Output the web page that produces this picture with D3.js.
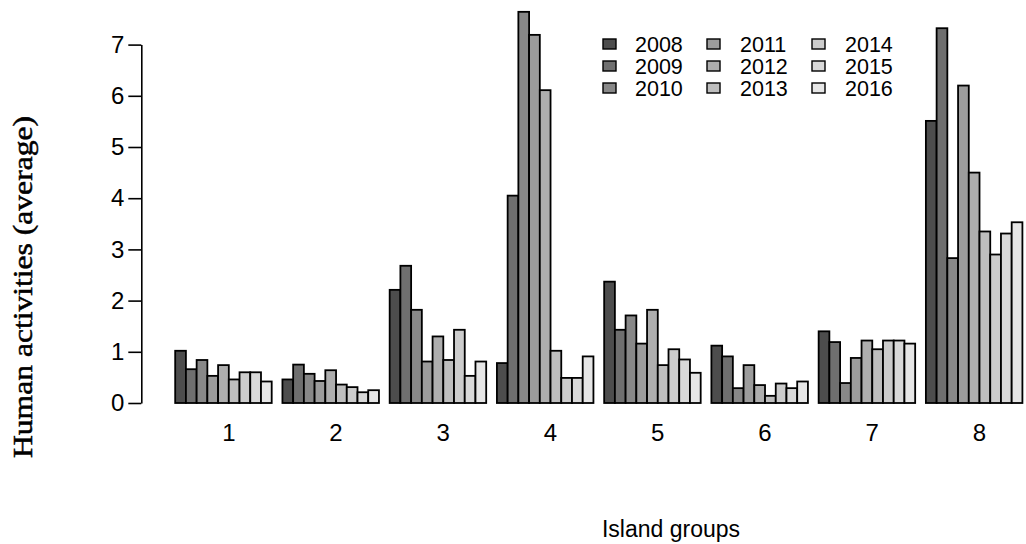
<!DOCTYPE html>
<html>
<head>
<meta charset="utf-8">
<script src="https://cdn.jsdelivr.net/npm/d3@7"></script>
<style>
  html, body { margin: 0; padding: 0; background: #fff; }
  svg { display: block; }
</style>
</head>
<body>
<svg id="chart" width="1026" height="544"></svg>
<script>
const groups = ["1", "2", "3", "4", "5", "6", "7", "8"];
const years = ["2008", "2009", "2010", "2011", "2012", "2013", "2014", "2015", "2016"];
const yTicks = [0, 1, 2, 3, 4, 5, 6, 7];
const v1 = [1.02, 0.66, 0.84, 0.53, 0.74, 0.46, 0.60, 0.60, 0.42];
const v2 = [0.46, 0.75, 0.57, 0.43, 0.64, 0.36, 0.31, 0.21, 0.25];
const v3 = [2.21, 2.68, 1.82, 0.81, 1.30, 0.84, 1.43, 0.53, 0.81];
const v4 = [0.78, 4.05, 7.64, 7.19, 6.11, 1.02, 0.49, 0.49, 0.91];
const v5 = [2.37, 1.43, 1.71, 1.16, 1.82, 0.74, 1.05, 0.85, 0.59];
const v6 = [1.12, 0.91, 0.29, 0.74, 0.35, 0.14, 0.38, 0.29, 0.42];
const v7 = [1.40, 1.19, 0.39, 0.88, 1.22, 1.05, 1.22, 1.22, 1.16];
const v8 = [5.51, 7.32, 2.83, 6.20, 4.50, 3.35, 2.90, 3.31, 3.53];
const values = [v1, v2, v3, v4, v5, v6, v7, v8];
const colors = ["#4D4D4D", "#6F6F6F", "#888888", "#9C9C9C", "#AEAEAE", "#BEBEBE", "#CCCCCC", "#D9D9D9", "#E6E6E6"];
const yLabel = "Human activities (average)";
const xLabel = "Island groups";

const svg = d3.select("#chart");

const nB = years.length;
const unitsPer = nB + 1;
const totalUnits = groups.length * unitsPer;
const ext = (totalUnits - 1) * 0.04;
const x = d3.scaleLinear().domain([1 - ext, totalUnits + ext]).range([141.3, 1056.3]);
const y = d3.scaleLinear().domain([0, 7]).range([403, 44.6]);
const color = d3.scaleOrdinal().domain(years).range(colors);

const gBars = svg.append("g");
groups.forEach((g, gi) => {
  gBars.selectAll(null)
    .data(values[gi].map((v, j) => ({ v, j })))
    .enter().append("rect")
    .attr("x", d => x(1 + gi * unitsPer + d.j))
    .attr("width", d => x(2 + gi * unitsPer + d.j) - x(1 + gi * unitsPer + d.j))
    .attr("y", d => y(d.v))
    .attr("height", d => y(0) - y(d.v))
    .attr("fill", d => color(years[d.j]))
    .attr("stroke", "#000")
    .attr("stroke-width", 1.8);
});

const yAxis = d3.axisLeft(y).tickValues(yTicks).tickSize(13).tickSizeOuter(0).tickPadding(4).tickFormat(d3.format("d"));
const ga = svg.append("g").attr("transform", `translate(${x(1 - ext)},0)`).call(yAxis);
ga.select(".domain").attr("stroke", "#000").attr("stroke-width", 1.6);
ga.selectAll(".tick line").attr("stroke", "#000").attr("stroke-width", 1.6);
ga.selectAll(".tick text")
  .attr("font-family", "Liberation Sans, Arial, sans-serif")
  .attr("font-size", 24).attr("fill", "#000");

const gx = svg.append("g");
gx.selectAll(null).data(groups).enter().append("text")
  .attr("x", (d, i) => x(1 + i * unitsPer + unitsPer / 2))
  .attr("y", 441)
  .attr("text-anchor", "middle")
  .attr("font-family", "Liberation Sans, Arial, sans-serif")
  .attr("font-size", 24)
  .text(d => d);

svg.append("text")
  .attr("x", 671).attr("y", 537)
  .attr("text-anchor", "middle")
  .attr("font-family", "Liberation Sans, Arial, sans-serif")
  .attr("font-size", 23)
  .text(xLabel);

svg.append("text")
  .attr("transform", "translate(32,287) rotate(-90)")
  .attr("text-anchor", "middle")
  .attr("font-family", "Liberation Serif, Times New Roman, serif")
  .attr("font-size", 27)
  .attr("stroke", "#000")
  .attr("stroke-width", 0.5)
  .attr("textLength", 342)
  .attr("lengthAdjust", "spacingAndGlyphs")
  .text(yLabel);

const legX = [603, 707, 812];
const legTX = [635, 740, 845];
const legY = [44, 66, 88];
const leg = svg.append("g");
years.forEach((yr, i) => {
  const c = Math.floor(i / 3), r = i % 3;
  leg.append("rect")
    .attr("x", legX[c]).attr("y", legY[r] - 5)
    .attr("width", 13).attr("height", 10)
    .attr("fill", color(yr)).attr("stroke", "#000").attr("stroke-width", 1.4);
  leg.append("text")
    .attr("x", legTX[c]).attr("y", legY[r] + 8)
    .attr("font-family", "Liberation Sans, Arial, sans-serif")
    .attr("font-size", 21.5)
    .text(yr);
});
</script>
</body>
</html>
